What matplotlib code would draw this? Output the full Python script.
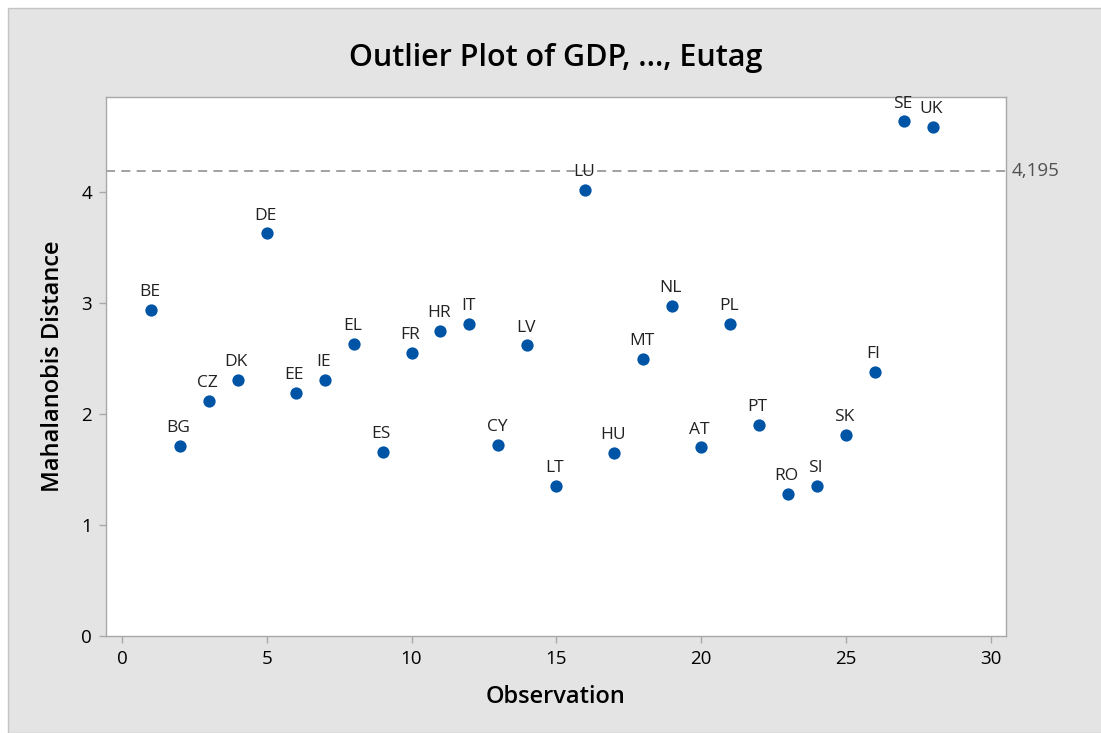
import matplotlib
matplotlib.use("Agg")
import matplotlib.pyplot as plt
from matplotlib.patches import Rectangle

# ---- data ----
codes = ["BE", "BG", "CZ", "DK", "DE", "EE", "IE", "EL", "ES", "FR", "HR", "IT", "CY", "LV",
         "LT", "LU", "HU", "MT", "NL", "AT", "PL", "PT", "RO", "SI", "SK", "FI", "SE", "UK"]
observation = list(range(1, 29))
distance = [2.94, 1.71, 2.12, 2.31, 3.63, 2.19, 2.31, 2.63, 1.66, 2.55, 2.75, 2.81, 1.72, 2.62,
            1.35, 4.02, 1.65, 2.50, 2.98, 1.70, 2.81, 1.90, 1.28, 1.35, 1.81, 2.38, 4.64, 4.59]
critical = 4.195
critical_label = "4,195"
xticks = [0, 5, 10, 15, 20, 25, 30]
yticks = [0, 1, 2, 3, 4]

plt.rcParams['font.family'] = ['Open Sans', 'DejaVu Sans']

W, H = 1101, 733
fig = plt.figure(figsize=(W / 100, H / 100), dpi=100, facecolor="white")
fig.patches.append(Rectangle((8 / W, 0), 1.0, 1 - 8 / H, transform=fig.transFigure,
                             facecolor="#e4e4e4", edgecolor="#c4c4c4", linewidth=1.0, zorder=-10))

ax = fig.add_axes([106 / W, 1 - 636 / H, 900 / W, 539 / H])
ax.set_zorder(1)
ax.set_facecolor("white")
ax.scatter(observation, distance, s=78, color="#0054a6", zorder=3, linewidths=0)
for x, y, c in zip(observation, distance, codes):
    ax.annotate(c, (x, y), xytext=(-1, 10), textcoords="offset points",
                ha="center", va="baseline", fontsize=12.5, color="#222222")

ax.axhline(critical, color="#9a9a9a", linestyle=(0, (5, 3.5)), linewidth=1.3, zorder=1)
ax.annotate(critical_label, xy=(1, critical), xycoords=("axes fraction", "data"),
            xytext=(4, 0), textcoords="offset points", ha="left", va="center",
            fontsize=13.5, color="#505050")

ax.set_xlim(-0.55, 30.53)
ax.set_ylim(0, 4.86)
ax.set_xticks(xticks)
ax.set_yticks(yticks)
for s in ax.spines.values():
    s.set_color("#a8a8a8")
    s.set_linewidth(1.0)
ax.tick_params(axis="both", direction="out", length=5, color="#a8a8a8", width=1.0,
               labelsize=13.5, labelcolor="black", pad=5)

ax.set_xlabel("Observation", fontsize=17, fontweight="semibold", labelpad=12)
ax.set_ylabel("Mahalanobis Distance", fontsize=17, fontweight="semibold", labelpad=12)
fig.text(556 / W, 1 - 58 / H, "Outlier Plot of GDP, ..., Eutag", ha="center", va="center",
         fontsize=22, fontweight="semibold")

fig.savefig("out.png", dpi=100, facecolor=fig.get_facecolor())
